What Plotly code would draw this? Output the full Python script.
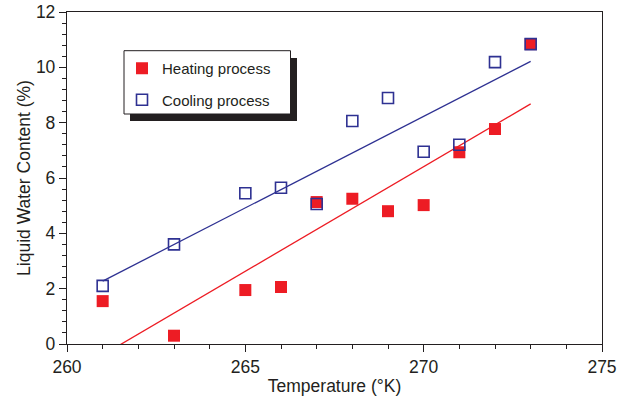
import numpy as np
import plotly.graph_objects as go

temps = [261, 263, 265, 266, 267, 268, 269, 270, 271, 272, 273]
heating = [1.55, 0.3, 1.95, 2.06, 5.13, 5.25, 4.8, 5.02, 6.93, 7.77, 10.84]
cooling = [2.1, 3.6, 5.45, 5.65, 5.06, 8.06, 8.89, 6.95, 7.2, 10.19, 10.84]

RED = "#ED1C24"
BLUE = "#2E3192"
TXT = "#231F20"

x_arr = np.array(temps, dtype=float)
fit_x = np.array([temps[0], temps[-1]], dtype=float)
h_fit = np.polyval(np.polyfit(x_arr, heating, 1), fit_x)
c_fit = np.polyval(np.polyfit(x_arr, cooling, 1), fit_x)

fig = go.Figure()
fig.add_trace(go.Scatter(x=fit_x, y=h_fit, mode="lines", line=dict(color=RED, width=1.3),
                         showlegend=False, hoverinfo="skip"))
fig.add_trace(go.Scatter(x=fit_x, y=c_fit, mode="lines", line=dict(color=BLUE, width=1.3),
                         showlegend=False, hoverinfo="skip"))
fig.add_trace(go.Scatter(x=temps, y=heating, mode="markers", name="Heating process",
                         legendgroup="h",
                         marker=dict(symbol="square", size=12, color=RED, line=dict(width=0))))
fig.add_trace(go.Scatter(x=temps, y=cooling, mode="markers", name="Cooling process",
                         legendgroup="c",
                         marker=dict(symbol="square-open", size=11, color=BLUE, line=dict(width=1.6, color=BLUE))))

L, R, T, B = 67, 22, 12, 58
W, H = 624, 402
pw, ph = W - L - R, H - T - B

def px(xp):
    return (xp - L) / pw

def py(yp):
    return (H - B - yp) / ph

shapes = [
    dict(type="rect", xref="paper", yref="paper", x0=px(130), x1=px(297), y0=py(121), y1=py(58),
         fillcolor="#231F20", line=dict(width=0), layer="above"),
    dict(type="rect", xref="paper", yref="paper", x0=px(124), x1=px(290.5), y0=py(114), y1=py(50.7),
         fillcolor="white", line=dict(color="#231F20", width=1), layer="above"),
]

fig.update_layout(
    width=W, height=H,
    margin=dict(l=L, r=R, t=T, b=B),
    paper_bgcolor="white", plot_bgcolor="white",
    font=dict(family="Liberation Sans, Arial, sans-serif", color=TXT, size=17),
    shapes=shapes,
    showlegend=True,
    legend=dict(x=px(122), y=py(52), xanchor="left", yanchor="top",
                bgcolor="rgba(0,0,0,0)", borderwidth=0,
                font=dict(size=15, color=TXT), tracegroupgap=9),
    xaxis=dict(range=[260, 275], dtick=5, tick0=260, ticks="outside", ticklen=7, tickwidth=1.2,
               tickcolor=TXT, showline=True, linecolor=TXT, linewidth=1.3, mirror=True,
               showgrid=False, zeroline=False, automargin=False,
               minor=dict(dtick=1, ticks="outside", ticklen=4, tickcolor=TXT, tickwidth=1),
               title=dict(text="Temperature (°K)", standoff=3, font=dict(size=17.5)),
               tickfont=dict(size=17.5)),
    yaxis=dict(range=[0, 12], dtick=2, tick0=0, ticks="outside", ticklen=7, tickwidth=1.2,
               tickcolor=TXT, showline=True, linecolor=TXT, linewidth=1.3, mirror=True,
               showgrid=False, zeroline=False, automargin=False,
               minor=dict(dtick=0.4, ticks="outside", ticklen=4, tickcolor=TXT, tickwidth=1),
               title=dict(text="Liquid Water Content (%)", standoff=0, font=dict(size=17.5)),
               tickfont=dict(size=17.5)),
)

fig.write_html("out.html", config={"displayModeBar": False},
               post_script="document.body.style.margin='0px';")
